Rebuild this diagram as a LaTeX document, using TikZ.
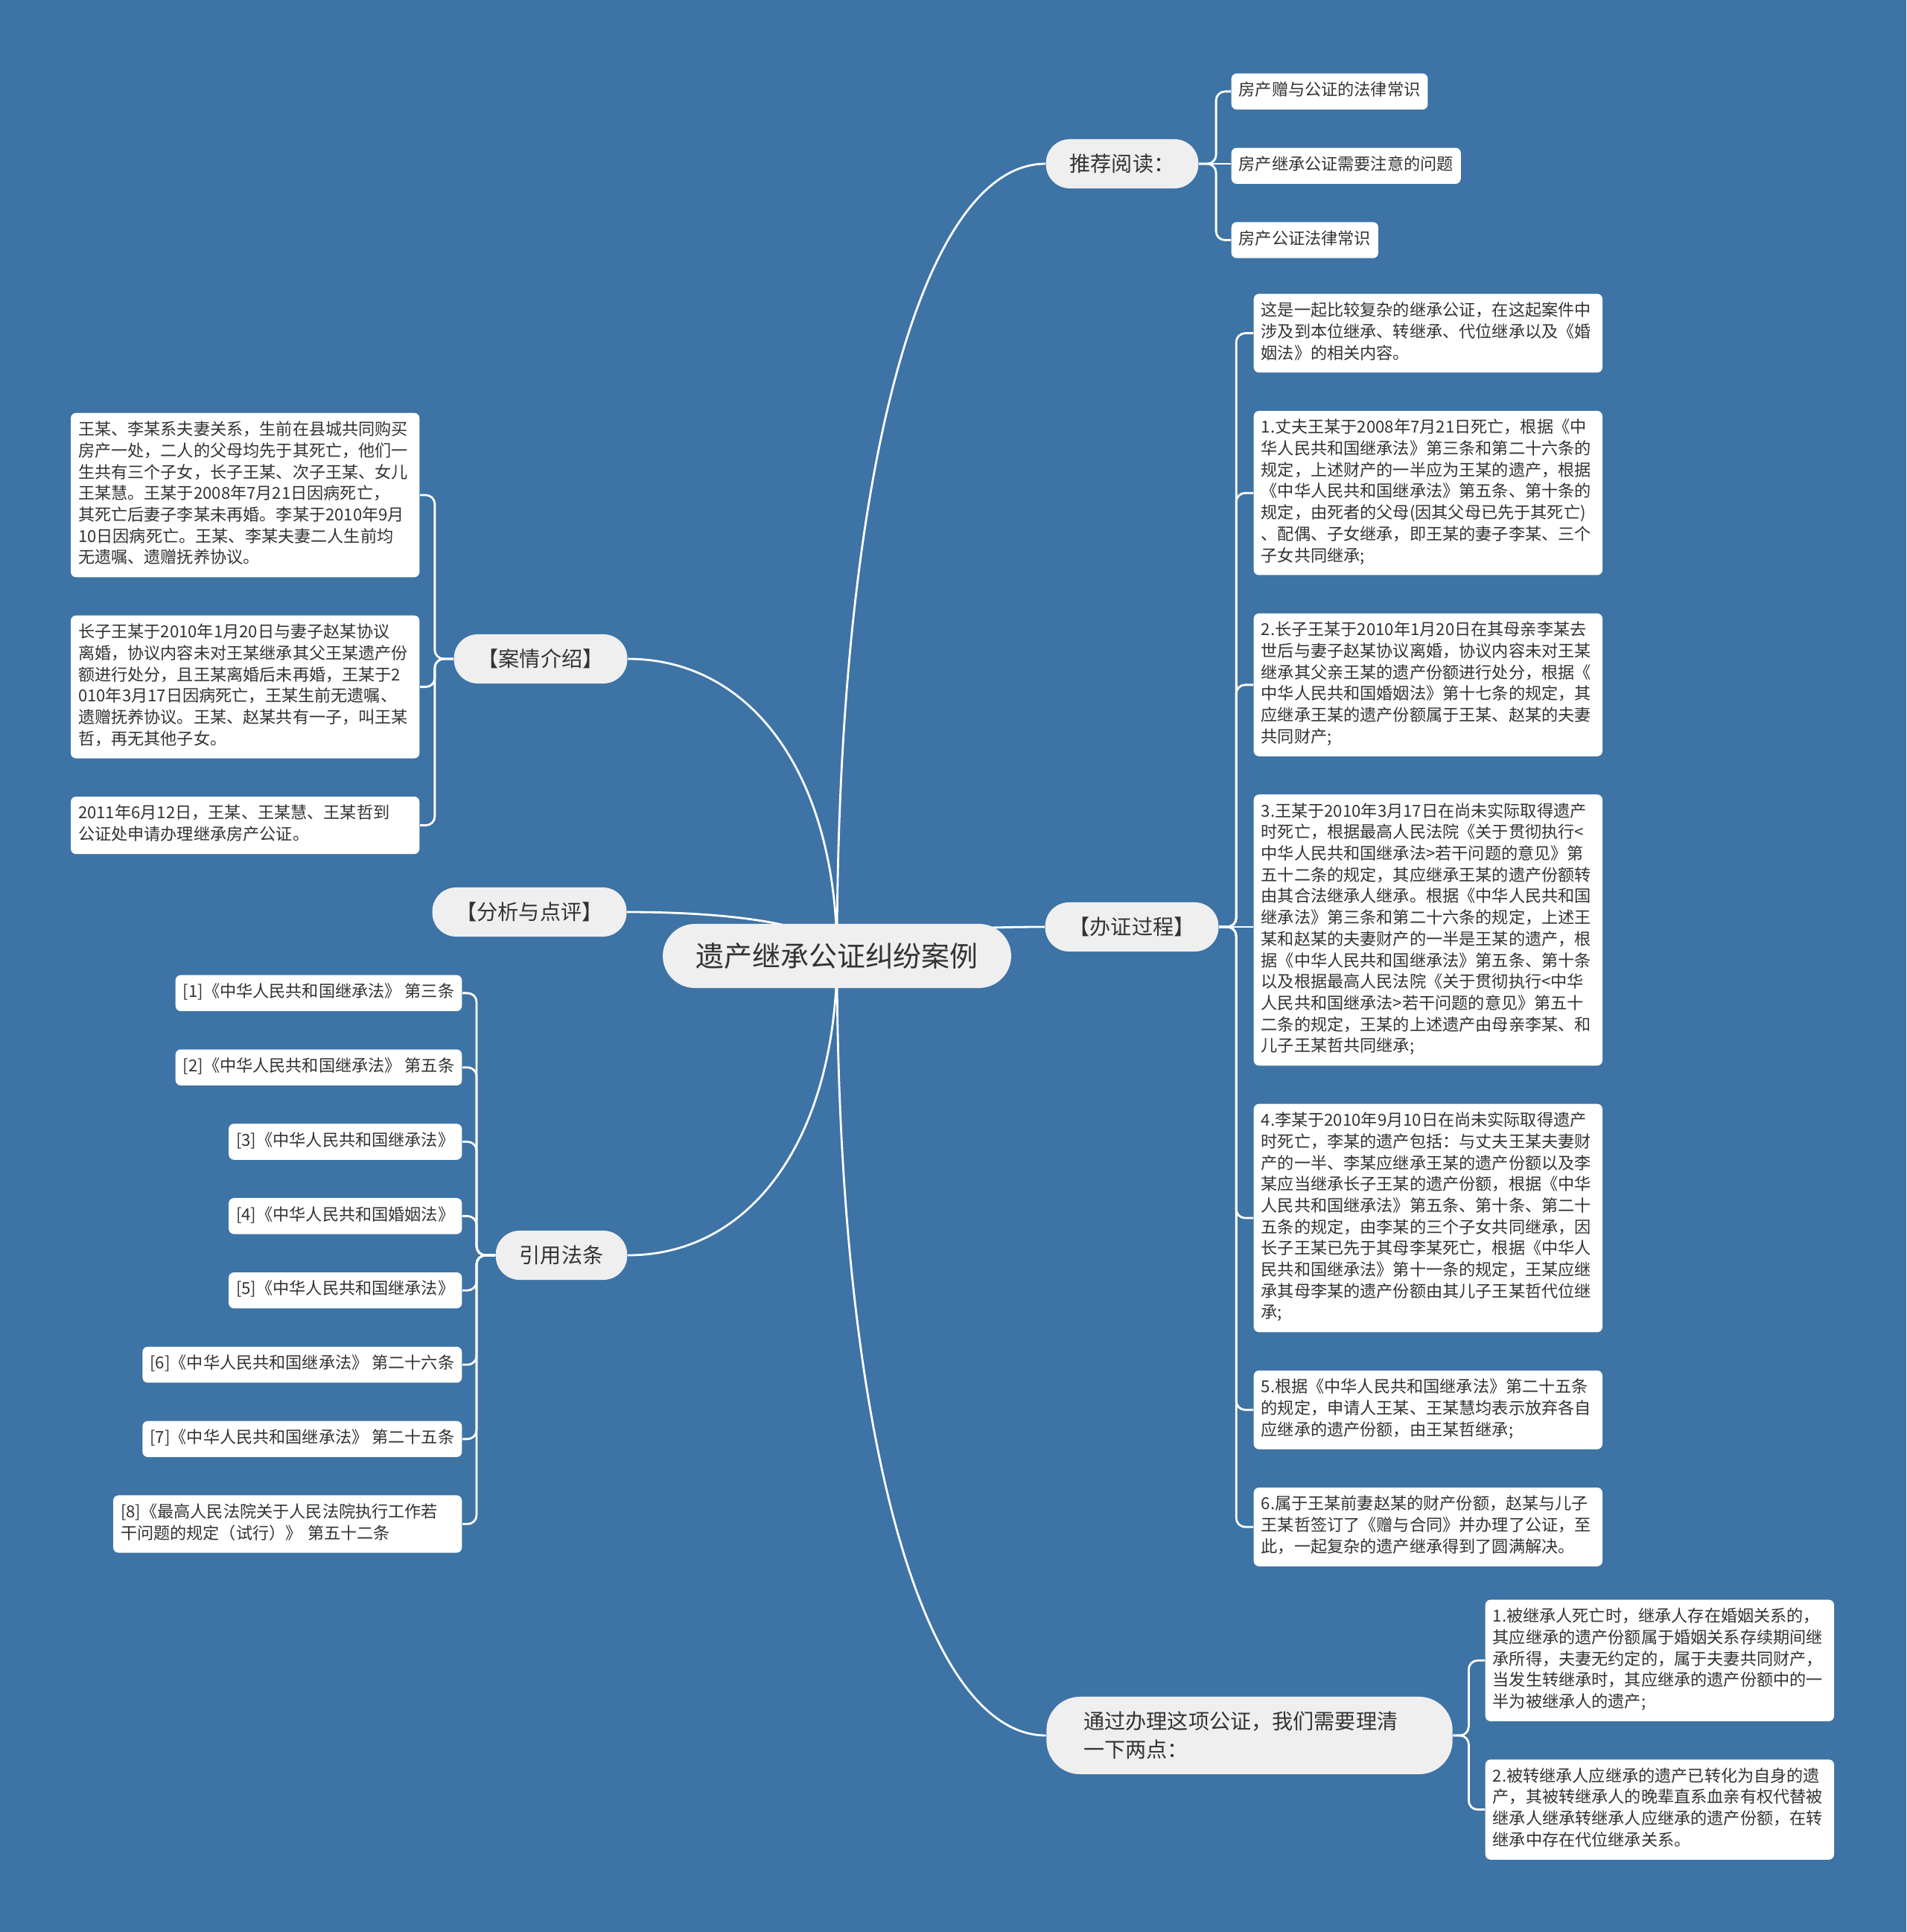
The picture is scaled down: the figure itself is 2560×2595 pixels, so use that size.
\documentclass[tikz,border=0pt]{standalone}
\usepackage{fontspec}
\setmainfont{Noto Sans CJK SC}
\usetikzlibrary{positioning, backgrounds, calc}
\definecolor{BgBlue}{HTML}{3D73A5}
\definecolor{NodeGray}{HTML}{EFEFEF}
\definecolor{TextDark}{HTML}{333333}

\begin{document}
\begin{tikzpicture}[
  x=0.01cm, y=-0.01cm,
  rootbox/.style={fill=NodeGray, rounded corners=0.43cm, minimum height=0.86cm, inner xsep=0.44cm,
                  font=\fontsize{10.8}{13}\selectfont, text=TextDark},
  topic/.style={fill=NodeGray, rounded corners=0.32cm, minimum height=0.66cm, inner xsep=0.32cm,
                font=\fontsize{8}{10.8}\selectfont, text=TextDark},
  leaf/.style={fill=white, rounded corners=0.07cm, inner xsep=0.1cm, inner ysep=2.8pt,
               font=\fontsize{6.3}{8.16}\selectfont, text=TextDark,
               execute at begin node=\strut, execute at end node=\strut},
  para/.style={leaf, text width=4.48cm, align=left},
  trunk/.style={white, line width=0.8pt},
  link/.style={white, line width=0.8pt, rounded corners=0.12cm},
  node distance=0.5cm,
]
  \useasboundingbox (0,0) rectangle (2560,2595);

  \node[rootbox] (root) at (1124,1284) {遗产继承公证纠纷案例};

  \node[topic] (read)    at (1507,220)  {推荐阅读：};
  \node[topic] (case)    at (726,885)   {【案情介绍】};
  \node[topic] (comment) at (711,1225)  {【分析与点评】};
  \node[topic] (proc)    at (1520,1245) {【办证过程】};
  \node[topic] (laws)    at (754,1686)  {引用法条};
  \node[topic, minimum height=1.04cm, rounded corners=0.45cm, inner xsep=0.5cm,
        text width=4.45cm, align=left] (points) at (1678,2331)
        {通过办理这项公证，我们需要理清\\一下两点：};

  \node[leaf, anchor=north west] (read1) at (1653,98) {房产赠与公证的法律常识};
  \node[leaf, below=of read1.south west, anchor=north west] (read2) {房产继承公证需要注意的问题};
  \node[leaf, below=of read2.south west, anchor=north west] (read3) {房产公证法律常识};

  \node[para, anchor=north east] (case1) at (564,554) {王某、李某系夫妻关系，生前在县城共同购买\\
    房产一处，二人的父母均先于其死亡，他们一\\
    生共有三个子女，长子王某、次子王某、女儿\\
    王某慧。王某于2008年7月21日因病死亡，\\
    其死亡后妻子李某未再婚。李某于2010年9月\\
    10日因病死亡。王某、李某夫妻二人生前均\\
    无遗嘱、遗赠抚养协议。};
  \node[para, below=of case1.south east, anchor=north east] (case2) {长子王某于2010年1月20日与妻子赵某协议\\
    离婚，协议内容未对王某继承其父王某遗产份\\
    额进行处分，且王某离婚后未再婚，王某于2\\
    010年3月17日因病死亡，王某生前无遗嘱、\\
    遗赠抚养协议。王某、赵某共有一子，叫王某\\
    哲，再无其他子女。};
  \node[para, below=of case2.south east, anchor=north east] (case3) {2011年6月12日，王某、王某慧、王某哲到\\
    公证处申请办理继承房产公证。};

  \node[para, anchor=north west] (proc1) at (1683,394) {这是一起比较复杂的继承公证，在这起案件中\\
    涉及到本位继承、转继承、代位继承以及《婚\\
    姻法》的相关内容。};
  \node[para, below=of proc1.south west, anchor=north west] (proc2) {1.丈夫王某于2008年7月21日死亡，根据《中\\
    华人民共和国继承法》第三条和第二十六条的\\
    规定，上述财产的一半应为王某的遗产，根据\\
    《中华人民共和国继承法》第五条、第十条的\\
    规定，由死者的父母(因其父母已先于其死亡)\\
    、配偶、子女继承，即王某的妻子李某、三个\\
    子女共同继承;};
  \node[para, below=of proc2.south west, anchor=north west] (proc3) {2.长子王某于2010年1月20日在其母亲李某去\\
    世后与妻子赵某协议离婚，协议内容未对王某\\
    继承其父亲王某的遗产份额进行处分，根据《\\
    中华人民共和国婚姻法》第十七条的规定，其\\
    应继承王某的遗产份额属于王某、赵某的夫妻\\
    共同财产;};
  \node[para, below=of proc3.south west, anchor=north west] (proc4) {3.王某于2010年3月17日在尚未实际取得遗产\\
    时死亡，根据最高人民法院《关于贯彻执行<\\
    中华人民共和国继承法>若干问题的意见》第\\
    五十二条的规定，其应继承王某的遗产份额转\\
    由其合法继承人继承。根据《中华人民共和国\\
    继承法》第三条和第二十六条的规定，上述王\\
    某和赵某的夫妻财产的一半是王某的遗产，根\\
    据《中华人民共和国继承法》第五条、第十条\\
    以及根据最高人民法院《关于贯彻执行<中华\\
    人民共和国继承法>若干问题的意见》第五十\\
    二条的规定，王某的上述遗产由母亲李某、和\\
    儿子王某哲共同继承;};
  \node[para, below=of proc4.south west, anchor=north west] (proc5) {4.李某于2010年9月10日在尚未实际取得遗产\\
    时死亡，李某的遗产包括：与丈夫王某夫妻财\\
    产的一半、李某应继承王某的遗产份额以及李\\
    某应当继承长子王某的遗产份额，根据《中华\\
    人民共和国继承法》第五条、第十条、第二十\\
    五条的规定，由李某的三个子女共同继承，因\\
    长子王某已先于其母李某死亡，根据《中华人\\
    民共和国继承法》第十一条的规定，王某应继\\
    承其母李某的遗产份额由其儿子王某哲代位继\\
    承;};
  \node[para, below=of proc5.south west, anchor=north west] (proc6) {5.根据《中华人民共和国继承法》第二十五条\\
    的规定，申请人王某、王某慧均表示放弃各自\\
    应继承的遗产份额，由王某哲继承;};
  \node[para, below=of proc6.south west, anchor=north west] (proc7) {6.属于王某前妻赵某的财产份额，赵某与儿子\\
    王某哲签订了《赠与合同》并办理了公证，至\\
    此，一起复杂的遗产继承得到了圆满解决。};

  \node[leaf, anchor=north east] (law1) at (621,1309) {[1]《中华人民共和国继承法》 第三条};
  \node[leaf, below=of law1.south east, anchor=north east] (law2) {[2]《中华人民共和国继承法》 第五条};
  \node[leaf, below=of law2.south east, anchor=north east] (law3) {[3]《中华人民共和国继承法》};
  \node[leaf, below=of law3.south east, anchor=north east] (law4) {[4]《中华人民共和国婚姻法》};
  \node[leaf, below=of law4.south east, anchor=north east] (law5) {[5]《中华人民共和国继承法》};
  \node[leaf, below=of law5.south east, anchor=north east] (law6) {[6]《中华人民共和国继承法》 第二十六条};
  \node[leaf, below=of law6.south east, anchor=north east] (law7) {[7]《中华人民共和国继承法》 第二十五条};
  \node[para, below=of law7.south east, anchor=north east] (law8) {[8]《最高人民法院关于人民法院执行工作若\\
    干问题的规定（试行）》 第五十二条};

  \node[para, anchor=north west] (point1) at (1994,2148) {1.被继承人死亡时，继承人存在婚姻关系的，\\
    其应继承的遗产份额属于婚姻关系存续期间继\\
    承所得，夫妻无约定的，属于夫妻共同财产，\\
    当发生转继承时，其应继承的遗产份额中的一\\
    半为被继承人的遗产;};
  \node[para, below=of point1.south west, anchor=north west] (point2) {2.被转继承人应继承的遗产已转化为自身的遗\\
    产，其被转继承人的晚辈直系血亲有权代替被\\
    继承人继承转继承人应继承的遗产份额，在转\\
    继承中存在代位继承关系。};

  \coordinate (readfork)   at ([xshift=0.23cm]read.east);
  \coordinate (casefork)   at ([xshift=-0.25cm]case.west);
  \coordinate (procfork)   at ([xshift=0.23cm]proc.east);
  \coordinate (lawsfork)   at ([xshift=-0.25cm]laws.west);
  \coordinate (pointsfork) at ([xshift=0.21cm]points.east);

  \begin{scope}[on background layer]
    \fill[BgBlue] (0,0) rectangle (2560,2595);

    \draw[trunk] (root.center) .. controls ($(root.center)!0.6!(root.center |- read.west)$)
      and ($(read.west)!0.6!(root.center |- read.west)$) .. (read.west);
    \draw[trunk] (root.center) .. controls ($(root.center)!0.6!(root.center |- case.east)$)
      and ($(case.east)!0.6!(root.center |- case.east)$) .. (case.east);
    \draw[trunk] (root.center) .. controls ($(root.center)!0.6!(root.center |- comment.east)$)
      and ($(comment.east)!0.6!(root.center |- comment.east)$) .. (comment.east);
    \draw[trunk] (root.center) .. controls ($(root.center)!0.6!(root.center |- proc.west)$)
      and ($(proc.west)!0.6!(root.center |- proc.west)$) .. (proc.west);
    \draw[trunk] (root.center) .. controls ($(root.center)!0.6!(root.center |- laws.east)$)
      and ($(laws.east)!0.6!(root.center |- laws.east)$) .. (laws.east);
    \draw[trunk] (root.center) .. controls ($(root.center)!0.6!(root.center |- points.west)$)
      and ($(points.west)!0.6!(root.center |- points.west)$) .. (points.west);

    \draw[link] (read.east) -- (readfork) |- (read1.west);
    \draw[link] (read.east) -- (read.east -| read2.west);
    \draw[link] (read.east) -- (readfork) |- (read3.west);

    \draw[link] (case.west) -- (casefork) |- (case1.east);
    \draw[link] (case.west) -- (casefork) |- (case2.east);
    \draw[link] (case.west) -- (casefork) |- (case3.east);

    \draw[link] (proc.east) -- (procfork) |- (proc1.west);
    \draw[link] (proc.east) -- (procfork) |- (proc2.west);
    \draw[link] (proc.east) -- (procfork) |- (proc3.west);
    \draw[link] (proc.east) -- (proc.east -| proc4.west);
    \draw[link] (proc.east) -- (procfork) |- (proc5.west);
    \draw[link] (proc.east) -- (procfork) |- (proc6.west);
    \draw[link] (proc.east) -- (procfork) |- (proc7.west);

    \draw[link] (laws.west) -- (lawsfork) |- (law1.east);
    \draw[link] (laws.west) -- (lawsfork) |- (law2.east);
    \draw[link] (laws.west) -- (lawsfork) |- (law3.east);
    \draw[link] (laws.west) -- (lawsfork) |- (law4.east);
    \draw[link] (laws.west) -- (lawsfork) |- (law5.east);
    \draw[link] (laws.west) -- (lawsfork) |- (law6.east);
    \draw[link] (laws.west) -- (lawsfork) |- (law7.east);
    \draw[link] (laws.west) -- (lawsfork) |- (law8.east);

    \draw[link] (points.east) -- (pointsfork) |- (point1.west);
    \draw[link] (points.east) -- (pointsfork) |- (point2.west);
  \end{scope}
\end{tikzpicture}
\end{document}
